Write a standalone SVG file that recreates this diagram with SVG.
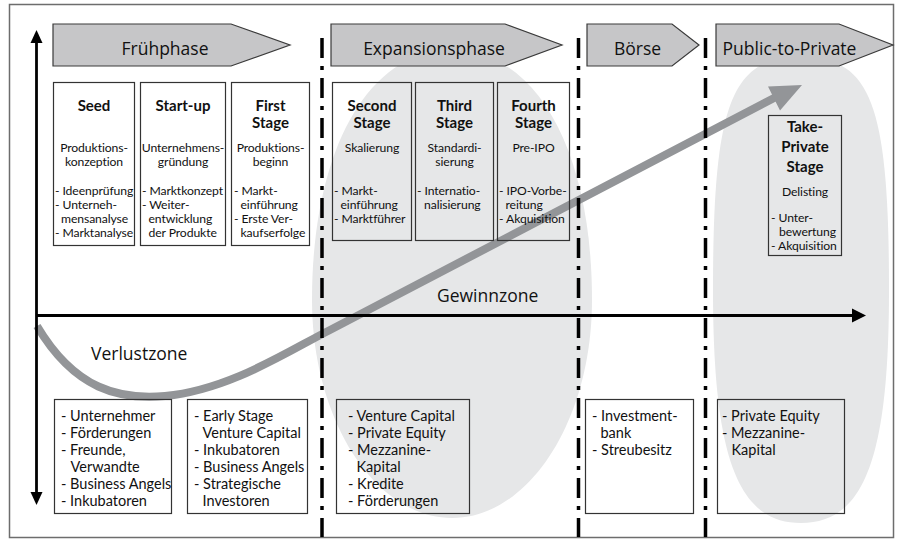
<svg xmlns="http://www.w3.org/2000/svg" width="903" height="544" viewBox="0 0 903 544">
<defs>
<style>
.frame{fill:#fff;stroke:#6d6d6d;stroke-width:1.5}
.blob{fill:#e6e7e8;stroke:none}
.phase{fill:#c6c6c8;stroke:#3a3a3a;stroke-width:1.2}
.ph{font-family:"Open Sans","Liberation Sans",sans-serif;font-size:17.5px;fill:#111;text-anchor:middle}
.zone{font-family:"Open Sans","Liberation Sans",sans-serif;font-size:17.5px;fill:#111}
.box{fill:none;stroke:#333;stroke-width:1.2}
.t{font-family:Lato,"Liberation Sans",sans-serif;font-size:15px;font-weight:bold;fill:#111;text-anchor:middle}
.s{font-family:Lato,"Liberation Sans",sans-serif;font-size:12.2px;letter-spacing:-0.1px;fill:#111;text-anchor:middle}
.l{font-family:Lato,"Liberation Sans",sans-serif;font-size:12.2px;letter-spacing:-0.1px;fill:#111}
.b{font-family:Lato,"Liberation Sans",sans-serif;font-size:14.5px;fill:#111}
.axis{stroke:#000;stroke-width:2.8;fill:none}
.sep{stroke:#000;stroke-width:3.5;stroke-dasharray:20 8 4 8;fill:none}
.curve{stroke:#939598;stroke-width:8;fill:none}
</style>
</defs>
<rect class="frame" x="9.5" y="4.5" width="884" height="533"/>
<g id="zones">
<path class="blob" d="M592,300 C592,420 529,518 452,518 C375,518 312,420 312,300 C312,150 368,50 452,50 C536,50 592,150 592,300Z"/>
<path class="blob" d="M889,290 C889,458 864,523 801,523 C738,523 713,458 713,290 C713,104 731,57 801,57 C871,57 889,104 889,290Z"/>
</g>
<g id="connectors">
<path class="curve" d="M37,326 C75,390 120,400 165,396 C230,390 290,350 330,330 L776,97"/>
<polygon points="768,86.5 780,110.5 802,85" fill="#939598"/>
<line class="axis" x1="36.5" y1="42" x2="36.5" y2="492"/>
<polygon points="36.5,30 30.5,43 42.5,43" fill="#000"/>
<polygon points="36.5,505 30.5,492 42.5,492" fill="#000"/>
<line class="axis" x1="36" y1="315.5" x2="853" y2="315.5"/>
<polygon points="866,315.5 852,308.5 852,322.5" fill="#000"/>
<line class="sep" x1="322" y1="38" x2="322" y2="537"/>
<line class="sep" x1="578.5" y1="38" x2="578.5" y2="537"/>
<line class="sep" x1="705.5" y1="38" x2="705.5" y2="537"/>
</g>
<g id="phase-fruehphase"><polygon class="phase" points="53,24 231,24 290,45 231,66 53,66"/><text class="ph" x="165" y="55">Frühphase</text></g>
<g id="phase-expansion"><polygon class="phase" points="331,24 505,24 562,45 505,66 331,66"/><text class="ph" x="434" y="55">Expansionsphase</text></g>
<g id="phase-boerse"><polygon class="phase" points="587,24 672,24 699,45 672,66 587,66"/><text class="ph" x="637.5" y="55">Börse</text></g>
<g id="phase-p2p"><polygon class="phase" points="716,24 839,24 893,45 839,66 716,66"/><text class="ph" x="789.5" y="55">Public-to-Private</text></g>
<g id="stage-seed">
<rect class="box" x="53.5" y="82.5" width="81" height="163"/>
<text class="t" x="94" y="111">Seed</text>
<text class="s" x="94" y="152">Produktions-</text><text class="s" x="94" y="166">konzeption</text>
<text class="l" x="55" y="195">- Ideenprüfung</text>
<text class="l" x="55" y="209">- Unterneh-</text>
<text class="l" x="61" y="223">mensanalyse</text>
<text class="l" x="55" y="237">- Marktanalyse</text>
</g>
<g id="stage-startup">
<rect class="box" x="140.5" y="82.5" width="85" height="163"/>
<text class="t" x="183" y="111">Start-up</text>
<text class="s" x="183" y="152">Unternehmens-</text><text class="s" x="183" y="166">gründung</text>
<text class="l" x="142" y="195">- Marktkonzept</text>
<text class="l" x="142" y="209">- Weiter-</text>
<text class="l" x="148.5" y="223">entwicklung</text>
<text class="l" x="148.5" y="237">der Produkte</text>
</g>
<g id="stage-first">
<rect class="box" x="231.5" y="82.5" width="78" height="163"/>
<text class="t" x="270.5" y="111">First</text><text class="t" x="270.5" y="128">Stage</text>
<text class="s" x="270.5" y="152">Produktions-</text><text class="s" x="270.5" y="166">beginn</text>
<text class="l" x="234" y="195">- Markt-</text>
<text class="l" x="240.5" y="209">einführung</text>
<text class="l" x="234" y="223">- Erste Ver-</text>
<text class="l" x="240.5" y="237">kaufserfolge</text>
</g>
<g id="stage-second">
<rect class="box" x="332.5" y="82.5" width="79" height="158"/>
<text class="t" x="372" y="111">Second</text><text class="t" x="372" y="128">Stage</text>
<text class="s" x="372" y="152">Skalierung</text>
<text class="l" x="334" y="195">- Markt-</text>
<text class="l" x="340.5" y="209">einführung</text>
<text class="l" x="334" y="223">- Marktführer</text>
</g>
<g id="stage-third">
<rect class="box" x="415.5" y="82.5" width="78" height="158"/>
<text class="t" x="454.5" y="111">Third</text><text class="t" x="454.5" y="128">Stage</text>
<text class="s" x="454.5" y="152">Standardi-</text><text class="s" x="454.5" y="166">sierung</text>
<text class="l" x="417" y="195">- Internatio-</text>
<text class="l" x="424" y="209">nalisierung</text>
</g>
<g id="stage-fourth">
<rect class="box" x="497.5" y="82.5" width="72" height="158"/>
<text class="t" x="533.5" y="111">Fourth</text><text class="t" x="533.5" y="128">Stage</text>
<text class="s" x="533.5" y="152">Pre-IPO</text>
<text class="l" x="499" y="195">- IPO-Vorbe-</text>
<text class="l" x="505.5" y="209">reitung</text>
<text class="l" x="499" y="223">- Akquisition</text>
</g>
<g id="stage-takeprivate">
<rect class="box" x="768.5" y="115.5" width="73" height="140"/>
<text class="t" x="805" y="132">Take-</text><text class="t" x="805" y="152">Private</text><text class="t" x="805" y="171.5">Stage</text>
<text class="s" x="805" y="196">Delisting</text>
<text class="l" x="771" y="222">- Unter-</text>
<text class="l" x="779" y="236">bewertung</text>
<text class="l" x="771" y="250">- Akquisition</text>
</g>
<g id="zone-labels">
<text class="zone" x="437" y="302">Gewinnzone</text>
<text class="zone" x="91" y="360">Verlustzone</text>
</g>
<g id="finance-early">
<rect class="box" x="54.5" y="399.5" width="117" height="114"/>
<text class="b" x="61" y="421">- Unternehmer</text>
<text class="b" x="61" y="438">- Förderungen</text>
<text class="b" x="61" y="455">- Freunde,</text>
<text class="b" x="70.5" y="472">Verwandte</text>
<text class="b" x="61" y="489">- Business Angels</text>
<text class="b" x="61" y="506">- Inkubatoren</text>
</g>
<g id="finance-startup">
<rect class="box" x="187.5" y="399.5" width="120" height="114"/>
<text class="b" x="194" y="421">- Early Stage</text>
<text class="b" x="202.5" y="438">Venture Capital</text>
<text class="b" x="194" y="455">- Inkubatoren</text>
<text class="b" x="194" y="472">- Business Angels</text>
<text class="b" x="194" y="489">- Strategische</text>
<text class="b" x="202.5" y="506">Investoren</text>
</g>
<g id="finance-expansion">
<rect class="box" x="336.5" y="399.5" width="133" height="114"/>
<text class="b" x="348" y="421">- Venture Capital</text>
<text class="b" x="348" y="438">- Private Equity</text>
<text class="b" x="348" y="455">- Mezzanine-</text>
<text class="b" x="356.5" y="472">Kapital</text>
<text class="b" x="348" y="489">- Kredite</text>
<text class="b" x="348" y="506">- Förderungen</text>
</g>
<g id="finance-boerse">
<rect class="box" x="585.5" y="399.5" width="108" height="114"/>
<text class="b" x="592" y="421">- Investment-</text>
<text class="b" x="600.5" y="438">bank</text>
<text class="b" x="592" y="455">- Streubesitz</text>
</g>
<g id="finance-p2p">
<rect class="box" x="717.5" y="399.5" width="127" height="114"/>
<text class="b" x="722" y="421">- Private Equity</text>
<text class="b" x="722" y="438">- Mezzanine-</text>
<text class="b" x="731.5" y="455">Kapital</text>
</g>
</svg>
